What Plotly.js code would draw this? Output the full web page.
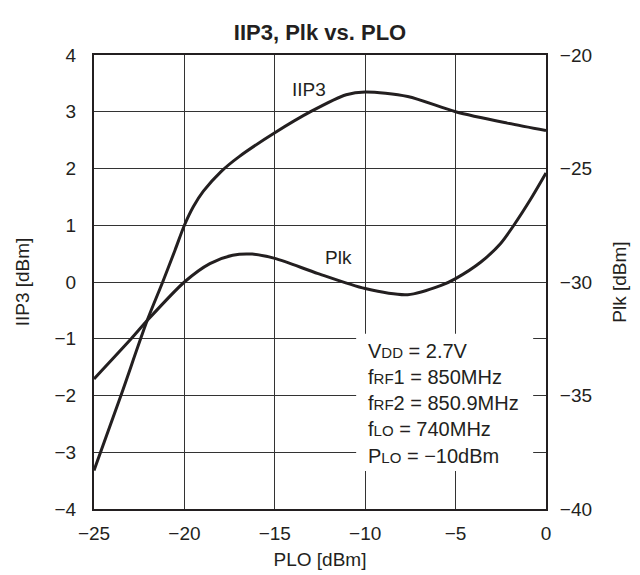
<!DOCTYPE html>
<html>
<head>
<meta charset="utf-8">
<script src="https://cdn.plot.ly/plotly-3.0.1.min.js"></script>
<style>html,body{margin:0;padding:0;background:#fff;}#chart{width:640px;height:575px;}</style>
</head>
<body>
<div id="chart"></div>
<script>
// PLO [dBm] sample points and series values
const iip3X = [-25, -23.5, -22.06, -21.2, -20.52, -20.0, -19.5, -18.95, -17.96, -16.97, -15.0, -12.97, -11.05, -10.0, -7.65, -5.0, -2.15, 0];
const iip3Y = [-3.32, -1.99, -0.68, 0.0, 0.56, 1.0, 1.33, 1.60, 1.95, 2.21, 2.63, 3.01, 3.30, 3.35, 3.27, 3.0, 2.80, 2.67];
const plkX = [-25, -22.92, -22.06, -20.0, -18.59, -17.33, -16.25, -15.0, -12.6, -10.0, -7.65, -5.8, -5.0, -3.6, -2.51, -1.78, -0.87, 0];
const plkY = [-34.27, -32.48, -31.7, -30.0, -29.19, -28.82, -28.77, -28.96, -29.63, -30.29, -30.56, -30.15, -29.85, -29.12, -28.3, -27.5, -26.38, -25.2];

const xTicks = [-25, -20, -15, -10, -5, 0];
const yLeftTicks = [-4, -3, -2, -1, 0, 1, 2, 3, 4];
const yRightTicks = [-40, -35, -30, -25, -20];

const condLines = [
  'V<span style="font-size:15px">DD</span> = 2.7V',
  'f<span style="font-size:15px">RF</span>1 = 850MHz',
  'f<span style="font-size:15px">RF</span>2 = 850.9MHz',
  'f<span style="font-size:15px">LO</span> = 740MHz',
  'P<span style="font-size:15px">LO</span> = \u221210dBm'
];
const condLeftV = [-1.21, -1.67, -2.13, -2.59, -3.07];

const FONT = 'Liberation Sans, Arial, Helvetica, sans-serif';
const INK = '#231f20';
const fmt = v => (v < 0 ? '\u2212' + Math.abs(v) : String(v));

const traces = [
  {x: iip3X, y: iip3Y, type: 'scatter', mode: 'lines', yaxis: 'y',
   line: {color: INK, width: 3, shape: 'spline', smoothing: 0.8}, hoverinfo: 'skip'},
  {x: plkX, y: plkY, type: 'scatter', mode: 'lines', yaxis: 'y2',
   line: {color: INK, width: 3, shape: 'spline', smoothing: 0.8}, hoverinfo: 'skip'}
];

const annotations = [
  {x: -13.1, y: 3.40, xref: 'x', yref: 'y', text: 'IIP3', showarrow: false,
   font: {family: FONT, size: 19, color: INK}},
  {x: -11.5, y: 0.44, xref: 'x', yref: 'y', text: 'Plk', showarrow: false,
   font: {family: FONT, size: 19, color: INK}}
];
condLines.forEach((t, i) => {
  annotations.push({x: -9.95, y: condLeftV[i], xref: 'x', yref: 'y', xanchor: 'left',
    text: t, showarrow: false, font: {family: FONT, size: 20, color: INK}});
});

const layout = {
  width: 640, height: 575,
  margin: {l: 94, r: 94, t: 55, b: 66},
  paper_bgcolor: '#fff', plot_bgcolor: '#fff',
  showlegend: false,
  font: {family: FONT, size: 19, color: INK},
  title: {text: '<b>IIP3, Plk vs. PLO</b>', x: 0.5, xanchor: 'center', y: 0.944, yanchor: 'middle',
          font: {family: FONT, size: 22, color: INK}},
  xaxis: {range: [-25, 0], tickvals: xTicks, ticktext: xTicks.map(fmt),
          showgrid: true, gridcolor: '#333', gridwidth: 1, zeroline: false,
          showline: true, linecolor: INK, linewidth: 2, mirror: true,
          ticks: 'outside', ticklen: 6, tickcolor: 'rgba(0,0,0,0)',
          tickfont: {family: FONT, size: 19, color: INK},
          title: {text: 'PLO [dBm]', standoff: 10, font: {family: FONT, size: 19, color: INK}}},
  yaxis: {range: [-4, 4], tickvals: yLeftTicks, ticktext: yLeftTicks.map(fmt),
          showgrid: true, gridcolor: '#333', gridwidth: 1, zeroline: false,
          showline: true, linecolor: INK, linewidth: 2,
          ticks: 'outside', ticklen: 12, tickcolor: 'rgba(0,0,0,0)',
          tickfont: {family: FONT, size: 19, color: INK},
          title: {text: 'IIP3 [dBm]', standoff: 20, font: {family: FONT, size: 19, color: INK}}},
  yaxis2: {range: [-40, -20], tickvals: yRightTicks, ticktext: yRightTicks.map(fmt),
           overlaying: 'y', side: 'right', showgrid: false, zeroline: false,
           showline: true, linecolor: INK, linewidth: 2,
           ticks: 'outside', ticklen: 8, tickcolor: 'rgba(0,0,0,0)',
           tickfont: {family: FONT, size: 19, color: INK},
           title: {text: 'Plk [dBm]', standoff: 22, font: {family: FONT, size: 19, color: INK}}},
  shapes: [
    {type: 'rect', xref: 'x', yref: 'y', x0: -10.5, x1: -0.71, y0: -3.33, y1: -0.91,
     fillcolor: '#fff', line: {width: 0}, layer: 'between'}
  ],
  annotations: annotations
};

Plotly.newPlot('chart', traces, layout, {displayModeBar: false, staticPlot: true});
</script>
</body>
</html>
